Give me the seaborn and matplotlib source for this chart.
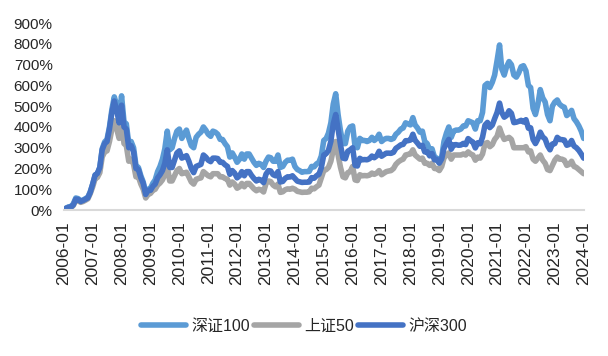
import matplotlib
matplotlib.use('Agg')
import matplotlib.pyplot as plt
import matplotlib.dates as mdates
from matplotlib.lines import Line2D
from matplotlib.ticker import FuncFormatter, MultipleLocator
import seaborn as sns
import pandas as pd

# ====================== DATA (累计收益, %) ======================
SERIES = ['深证100', '上证50', '沪深300']
COLORS = ['#5B9BD5', '#A5A5A5', '#4472C4']

hs300 = [
    0, 9, 13, 14, 25, 52, 51, 41, 46, 52, 59, 85,              # 2006
    125, 169, 176, 205, 290, 320, 330, 390, 470, 525, 480, 420,  # 2007
    505, 400, 390, 300, 310, 280, 200, 195, 155, 128, 75, 95,    # 2008
    95, 115, 125, 155, 170, 190, 225, 290, 205, 205, 240, 275,   # 2009
    285, 250, 255, 262, 235, 200, 180, 210, 215, 220, 265, 255,  # 2010
    240, 233, 250, 250, 248, 230, 230, 218, 210, 172, 190, 178,  # 2011
    155, 165, 185, 165, 185, 185, 167, 152, 140, 148, 144, 132,  # 2012
    173, 190, 188, 170, 165, 185, 135, 138, 153, 160, 159, 165,  # 2013
    152, 139, 136, 133, 134, 134, 135, 156, 153, 165, 172, 204,  # 2014
    265, 272, 287, 331, 415, 460, 390, 313, 250, 247, 283, 290,  # 2015
    300, 215, 212, 249, 242, 243, 242, 247, 260, 252, 261, 283,  # 2016
    259, 267, 274, 274, 273, 278, 297, 305, 314, 316, 334, 334,  # 2017
    337, 365, 336, 322, 307, 312, 280, 281, 261, 272, 242, 244,  # 2018
    226, 247, 297, 320, 340, 293, 314, 315, 312, 313, 321, 315,  # 2019
    344, 334, 327, 299, 324, 319, 351, 409, 422, 397, 409, 440,  # 2020
    470, 515, 470, 447, 455, 478, 466, 421, 423, 427, 432, 424,  # 2021
    435, 394, 396, 340, 320, 343, 375, 352, 342, 310, 290, 318,  # 2022
    320, 350, 340, 339, 337, 312, 316, 335, 308, 300, 287, 270,  # 2023
    250,                                                         # 2024-01
]

sz100 = [
    0, 10, 15, 17, 30, 58, 55, 44, 48, 55, 62, 88,
    125, 168, 175, 205, 295, 328, 340, 400, 485, 545, 505, 450,
    550, 425, 415, 320, 330, 300, 215, 205, 165, 135, 80, 100,
    105, 130, 145, 185, 210, 245, 295, 380, 290, 300, 345, 380,
    390, 345, 365, 385, 345, 310, 300, 350, 365, 375, 400, 385,
    365, 355, 380, 375, 365, 340, 340, 320, 305, 255, 275, 255,
    230, 245, 270, 245, 270, 270, 250, 230, 215, 225, 220, 205,
    235, 255, 252, 235, 235, 265, 205, 210, 230, 240, 240, 245,
    210, 195, 190, 182, 185, 185, 186, 210, 208, 222, 230, 260,
    335, 345, 370, 420, 510, 560, 460, 380, 320, 320, 380, 400,
    405, 305, 300, 345, 335, 335, 330, 335, 350, 335, 345, 365,
    330, 340, 345, 345, 340, 345, 365, 375, 390, 395, 420, 415,
    410, 445, 410, 395, 375, 380, 330, 320, 290, 295, 255, 250,
    226, 255, 330, 370, 400, 350, 380, 385, 385, 390, 405, 405,
    430, 425, 420, 390, 430, 430, 470, 600, 610, 590, 615, 650,
    720, 795, 680, 650, 690, 715, 700, 650, 640, 660, 690, 695,
    670, 600, 590, 490, 460, 510, 580, 540, 520, 460, 430, 500,
    520, 530, 510, 500, 495, 455, 465, 480, 440, 425, 405, 380,
    345,
]

sz50 = [
    0, 6, 10, 11, 22, 47, 46, 37, 41, 47, 54, 79,
    112, 152, 157, 180, 255, 280, 285, 330, 390, 430, 390, 345,
    415, 320, 310, 235, 245, 220, 160, 160, 125, 100, 58, 75,
    80, 95, 100, 120, 130, 145, 170, 210, 140, 140, 165, 190,
    200, 175, 178, 182, 160, 135, 125, 148, 152, 155, 185, 175,
    165, 160, 175, 175, 175, 160, 160, 152, 148, 120, 135, 125,
    105, 112, 128, 112, 128, 128, 115, 102, 93, 100, 97, 87,
    128, 140, 137, 120, 112, 125, 85, 88, 98, 102, 100, 105,
    100, 90, 88, 85, 86, 86, 88, 105, 102, 112, 120, 155,
    190, 195, 205, 235, 290, 330, 265, 205, 160, 155, 180, 185,
    210, 145, 142, 170, 165, 166, 165, 168, 178, 172, 178, 190,
    170, 178, 185, 188, 190, 200, 220, 232, 240, 245, 265, 268,
    270, 290, 265, 255, 245, 250, 225, 225, 215, 225, 200, 200,
    190, 210, 250, 265, 275, 245, 265, 265, 265, 265, 270, 265,
    280, 270, 265, 240, 255, 250, 270, 320, 325, 305, 315, 340,
    355, 395, 365, 340, 345, 350, 340, 300, 300, 300, 300, 300,
    305, 280, 285, 245, 235, 250, 265, 240, 225, 195, 190, 215,
    240, 255, 245, 245, 240, 215, 220, 235, 210, 205, 195, 185,
    175,
]

months = pd.date_range('2006-01-01', '2024-01-01', freq='MS')

# ====================== STYLE ======================
sns.set_theme(style='white')
plt.rcParams['font.family'] = ['Liberation Sans', 'Noto Sans CJK SC', 'DejaVu Sans']
TEXT_COLOR = '#262626'
AXIS_COLOR = '#D9D9D9'
LW = 4.0

df = pd.DataFrame({'date': months, '深证100': sz100, '上证50': sz50, '沪深300': hs300})
long_df = df.melt(id_vars='date', var_name='指数', value_name='收益')

# ====================== PLOT ======================
fig, ax = plt.subplots(figsize=(6.08, 3.56), dpi=100)
fig.subplots_adjust(left=0.105, right=0.96, bottom=0.41, top=0.935)

sns.lineplot(data=long_df, x='date', y='收益', hue='指数', hue_order=SERIES,
             palette=COLORS, linewidth=LW, ax=ax, legend=False)

ax.set_xlim(months[0], months[-1])
ax.set_ylim(0, 900)
ax.yaxis.set_major_locator(MultipleLocator(100))
ax.yaxis.set_major_formatter(FuncFormatter(lambda v, _: f'{v:.0f}%'))
ax.xaxis.set_major_locator(mdates.YearLocator())
ax.xaxis.set_major_formatter(mdates.DateFormatter('%Y-%m'))

ax.tick_params(axis='y', length=0, pad=8, labelsize=11, labelcolor=TEXT_COLOR)
ax.tick_params(axis='x', direction='out', length=5, width=1.2, color=AXIS_COLOR,
               labelsize=12.5, labelcolor=TEXT_COLOR, labelrotation=90, pad=3)

for side in ['top', 'right', 'left']:
    ax.spines[side].set_visible(False)
ax.spines['bottom'].set_color(AXIS_COLOR)
ax.spines['bottom'].set_linewidth(1.5)
ax.set_xlabel('')
ax.set_ylabel('')

handles = [Line2D([0], [0], color=c, linewidth=LW, solid_capstyle='round') for c in COLORS]
fig.legend(handles, SERIES, loc='center', bbox_to_anchor=(0.5, 0.084), ncol=3,
           frameon=False, handlelength=2.8, handletextpad=0.3, columnspacing=0.3,
           prop={'size': 11.5}, labelcolor=TEXT_COLOR)

plt.savefig('out.png', dpi=100)
plt.close()
